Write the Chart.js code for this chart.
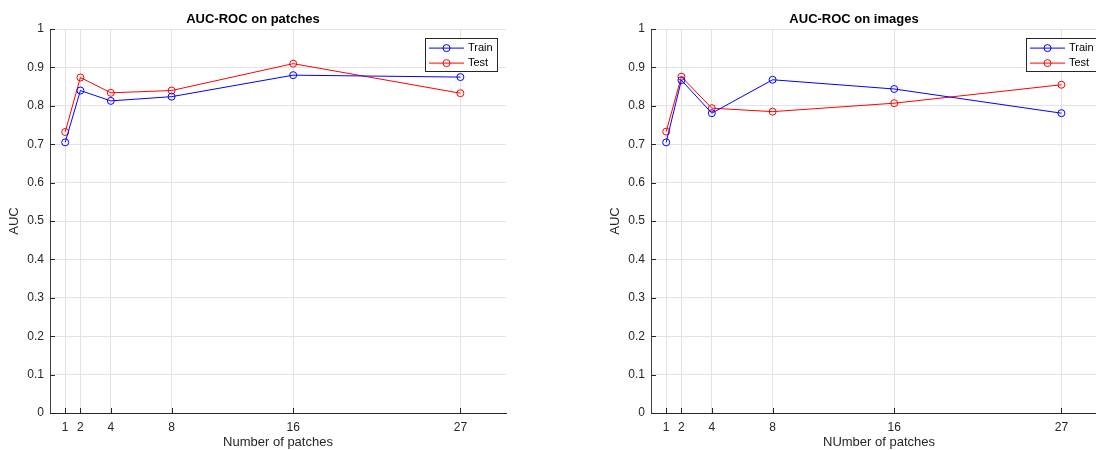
<!DOCTYPE html>
<html>
<head>
<meta charset="utf-8">
<script src="https://cdn.jsdelivr.net/npm/chart.js@4.4.1/dist/chart.umd.min.js"></script>
<style>
  html, body { margin: 0; padding: 0; background: #fff; overflow: hidden; width: 1096px; height: 450px; }
  .box { position: absolute; top: 0; width: 556px; height: 450px; }
  #left { left: 0; }
  #right { left: 601px; }
</style>
</head>
<body>
<div class="box" id="left"><canvas id="chart-patches"></canvas></div>
<div class="box" id="right"><canvas id="chart-images"></canvas></div>
<script>
// AUC-ROC vs number of patches, two MATLAB-style subplots

const patchCounts = [1, 2, 4, 8, 16, 27];
const patchTrain  = [0.705, 0.840, 0.813, 0.824, 0.880, 0.875];
const patchTest   = [0.732, 0.874, 0.834, 0.840, 0.910, 0.833];
const imageTrain  = [0.705, 0.867, 0.781, 0.868, 0.844, 0.781];
const imageTest   = [0.733, 0.876, 0.794, 0.785, 0.807, 0.855];
const yTicks      = [0, 0.1, 0.2, 0.3, 0.4, 0.5, 0.6, 0.7, 0.8, 0.9, 1];

const FONT = '"Liberation Sans", Arial, Helvetica, sans-serif';
Chart.defaults.font = { family: FONT, size: 12 };
Chart.defaults.color = '#262626';

const toPoints = (xs, ys) => xs.map((x, i) => ({ x: x, y: ys[i] }));

// inward tick marks like MATLAB
const innerTicks = {
  id: 'innerTicks',
  afterDatasetsDraw(chart) {
    const { ctx, chartArea: a, scales: { x, y } } = chart;
    ctx.save();
    ctx.strokeStyle = '#262626';
    ctx.lineWidth = 1;
    ctx.beginPath();
    x.ticks.forEach(t => {
      const px = Math.round(x.getPixelForValue(t.value)) + 0.5;
      ctx.moveTo(px, a.bottom);
      ctx.lineTo(px, a.bottom - 5);
    });
    y.ticks.forEach(t => {
      const py = Math.round(y.getPixelForValue(t.value)) + 0.5;
      ctx.moveTo(a.left, py);
      ctx.lineTo(a.left + 5, py);
    });
    ctx.stroke();
    ctx.restore();
  },
};

// legend box inside the axes, top right
const boxLegend = {
  id: 'boxLegend',
  afterDraw(chart) {
    const { ctx, chartArea: a } = chart;
    const w = 72, h = 33;
    const x0 = a.right - 9 - w, y0 = a.top + 9;
    ctx.save();
    ctx.fillStyle = '#fff';
    ctx.fillRect(x0, y0, w, h);
    ctx.strokeStyle = '#262626';
    ctx.lineWidth = 1;
    ctx.strokeRect(Math.round(x0) + 0.5, Math.round(y0) + 0.5, w, h);
    chart.data.datasets.forEach((ds, i) => {
      const cy = y0 + 10 + i * 15;
      ctx.strokeStyle = ds.borderColor;
      ctx.beginPath();
      ctx.moveTo(x0 + 4, cy);
      ctx.lineTo(x0 + 39, cy);
      ctx.stroke();
      ctx.beginPath();
      ctx.arc(x0 + 21.5, cy, 3.5, 0, Math.PI * 2);
      ctx.stroke();
      ctx.fillStyle = '#000';
      ctx.font = '11px ' + FONT;
      ctx.textBaseline = 'middle';
      ctx.fillText(ds.label, x0 + 43, cy);
    });
    ctx.restore();
  },
};

function makeChart(id, title, xTitle, train, test) {
  return new Chart(document.getElementById(id), {
    type: 'line',
    data: {
      datasets: [
        { label: 'Train', data: toPoints(patchCounts, train), borderColor: '#0000ff', backgroundColor: 'rgba(0,0,0,0)',
          borderWidth: 1, pointRadius: 3.5, pointBorderWidth: 1, pointBackgroundColor: 'rgba(0,0,0,0)', tension: 0 },
        { label: 'Test', data: toPoints(patchCounts, test), borderColor: '#ff0000', backgroundColor: 'rgba(0,0,0,0)',
          borderWidth: 1, pointRadius: 3.5, pointBorderWidth: 1, pointBackgroundColor: 'rgba(0,0,0,0)', tension: 0 },
      ],
    },
    options: {
      responsive: true,
      maintainAspectRatio: false,
      animation: false,
      layout: { padding: { left: 0, right: 50, top: 0, bottom: 0 } },
      plugins: {
        legend: { display: false },
        tooltip: { enabled: false },
        title: { display: true, text: title, color: '#000', font: { size: 13, weight: 'bold' }, padding: { top: 12, bottom: 1.5 } },
      },
      scales: {
        x: {
          type: 'linear', min: 0, max: 30,
          afterBuildTicks: s => { s.ticks = patchCounts.map(v => ({ value: v })); },
          afterFit: s => { s.height = 37; },
          grid: { color: '#e3e3e3', drawTicks: false },
          border: { color: '#262626', width: 1 },
          ticks: { padding: 7, color: '#262626', callback: v => String(v) },
          title: { display: true, text: xTitle, color: '#262626', font: { size: 13 }, padding: { top: 3, bottom: 0 } },
        },
        y: {
          type: 'linear', min: 0, max: 1,
          afterBuildTicks: s => { s.ticks = yTicks.map(v => ({ value: v })); },
          afterFit: s => { s.width = 50; },
          grid: { color: '#e3e3e3', drawTicks: false },
          border: { color: '#404040', width: 1 },
          ticks: { padding: 6, color: '#262626', callback: v => String(+v.toFixed(1)) },
          title: { display: true, text: 'AUC', color: '#262626', font: { size: 13 }, padding: { top: 7, bottom: 0 } },
        },
      },
    },
    plugins: [innerTicks, boxLegend],
  });
}

makeChart('chart-patches', 'AUC-ROC on patches', 'Number of patches', patchTrain, patchTest);
makeChart('chart-images', 'AUC-ROC on images', 'NUmber of patches', imageTrain, imageTest);
</script>
</body>
</html>
